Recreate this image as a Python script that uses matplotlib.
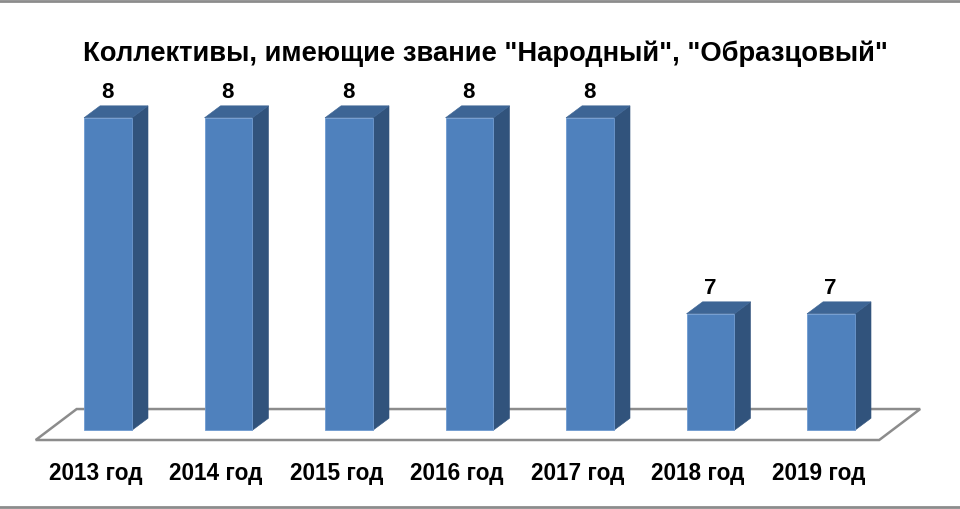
#! /usr/bin/python3

import matplotlib
matplotlib.use("Agg")
import matplotlib.pyplot as plt
from matplotlib.patches import Polygon
from matplotlib.lines import Line2D

### Chart data
years = ["2013 год", "2014 год", "2015 год", "2016 год", "2017 год", "2018 год", "2019 год"]
values = [8, 8, 8, 8, 8, 7, 7]
title = "Коллективы, имеющие звание \"Народный\", \"Образцовый\""

### Fake 3D look
base = 6.406
bar_width = 0.398
depth_x = 0.133
depth_y = 0.061
front_color = "#4F81BD"
top_color = "#3D6595"
side_color = "#31537C"
edge_color = "#6F9AD0"
floor_color = "#8C8C8C"

matplotlib.rc("font", family=["Liberation Sans", "DejaVu Sans"], weight="bold")

fig = plt.figure(figsize=(9.6, 5.1), dpi=100)
ax = fig.add_axes([0, 0, 1, 1])
ax.set_xlim(-108/120.5, 852/120.5)
ax.set_ylim(6.004, 8.606)
ax.axis("off")

### Floor
floor_left = -0.6
floor_right = len(years) - 1 + 0.4
floor_front = base - 0.05
floor_back = base + 0.108
ax.add_patch(Polygon([(floor_left, floor_front), (floor_right, floor_front),
                      (floor_right + 0.34, floor_back), (floor_left + 0.34, floor_back)],
                     closed=True, facecolor="white", edgecolor=floor_color, linewidth=1.8, zorder=1))

### Bars
positions = list(range(len(years)))
ax.bar(positions, [v - base for v in values], bottom=base, width=bar_width,
       color=front_color, edgecolor=edge_color, linewidth=0.6, zorder=3)

for x, v in zip(positions, values):
    left = x - bar_width/2
    right = x + bar_width/2
    ax.add_patch(Polygon([(right, base), (right + depth_x, base + depth_y),
                          (right + depth_x, v + depth_y), (right, v)],
                         closed=True, facecolor=side_color, edgecolor=side_color, linewidth=0.4, zorder=2))
    ax.add_patch(Polygon([(left, v), (right, v), (right + depth_x, v + depth_y), (left + depth_x, v + depth_y)],
                         closed=True, facecolor=top_color, edgecolor=top_color, linewidth=0.4, zorder=2))
    ax.text(x - 0.005, v + 0.133, str(v), ha="center", va="center", fontsize=16, color="black")

### Category labels and title
for x, label in zip(positions, years):
    ax.text(x - 0.105, 6.19, label, ha="center", va="center", fontsize=16.3, color="black")

ax.text(0.506, 0.895, title, transform=ax.transAxes, ha="center", va="center", fontsize=19.7, color="black")

### Grey picture border, top and bottom only
for y in [0.997, 0.004]:
    fig.add_artist(Line2D([0, 1], [y, y], transform=fig.transFigure, color=floor_color, linewidth=2))

fig.savefig("out.png", dpi=100)
